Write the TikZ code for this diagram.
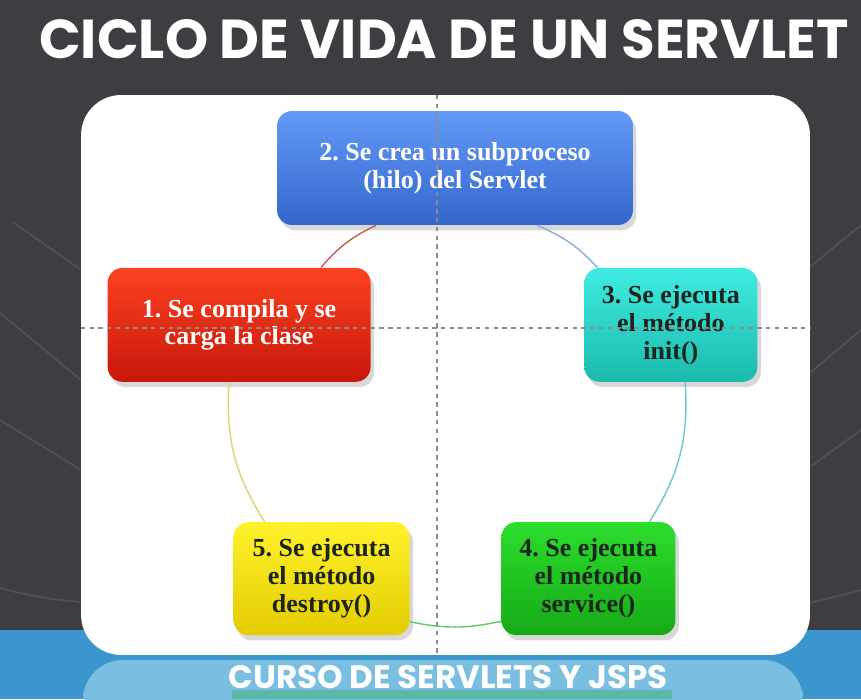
\documentclass[tikz,border=0pt]{standalone}
\usepackage{fontspec}
\setmainfont{Liberation Serif}
\newfontfamily\headfont{Poppins}
\usepackage{xcolor}
\usetikzlibrary{positioning, shadows, calc}

\definecolor{slate}{RGB}{62,62,66}
\definecolor{seablue}{RGB}{58,150,205}
\definecolor{sealight}{RGB}{122,190,226}
\definecolor{seateal}{RGB}{92,184,168}
\definecolor{guidegray}{RGB}{140,140,140}
\definecolor{inkdark}{RGB}{28,36,30}
\definecolor{redTop}{RGB}{252,66,32}
\definecolor{redBot}{RGB}{200,22,10}
\definecolor{blueTop}{RGB}{98,154,247}
\definecolor{blueBot}{RGB}{52,102,205}
\definecolor{cyanTop}{RGB}{64,236,226}
\definecolor{cyanBot}{RGB}{26,186,172}
\definecolor{greenTop}{RGB}{44,222,44}
\definecolor{greenBot}{RGB}{22,170,22}
\definecolor{yellowTop}{RGB}{255,242,44}
\definecolor{yellowBot}{RGB}{228,204,0}
\definecolor{redLine}{RGB}{200,92,80}
\definecolor{blueLine}{RGB}{140,170,220}
\definecolor{cyanLine}{RGB}{110,200,200}
\definecolor{greenLine}{RGB}{100,200,100}
\definecolor{yellowLine}{RGB}{222,212,110}

\begin{document}
\frenchspacing
\begin{tikzpicture}[x=0.02cm, y=0.02cm,
  stepbox/.style={rounded corners=0.3cm, minimum height=2.28cm, align=center,
    font=\bfseries\fontsize{14.8}{15.9}\selectfont,
    drop shadow={shadow xshift=2pt, shadow yshift=-3pt, opacity=0.3}},
  loop/.style={line width=0.8pt},
  guide/.style={guidegray, dashed, dash pattern=on 2.5pt off 2.5pt, line width=0.6pt},
  ray/.style={white, opacity=0.1, line width=1pt}]
\useasboundingbox (0,0) rectangle (861,699);

% backdrop
\fill[slate] (0,0) rectangle (861,699);
\fill[seablue] (0,0) rectangle (861,69);
\fill[sealight, rounded corners=0.8cm] (83,-30) rectangle (803,39);
\fill[seateal] (232,0) rectangle (672,9);
\draw[ray] (0,386) -- (81,319);
\draw[ray] (13,477) -- (81,429);
\draw[ray] (0,279) -- (81,229);
\draw[ray] (0,111) to[bend right=5] (81,97);
\draw[ray] (810,432) -- (861,474);
\draw[ray] (810,326) -- (861,369);
\draw[ray] (810,232) -- (861,269);
\draw[ray] (810,96) -- (861,109);

\node[fill=white, rounded corners=0.8cm, minimum width=14.58cm, minimum height=11.2cm] (panel) at (445.5,324) {};
\coordinate (hub) at (455,304);

\node[font=\headfont\bfseries\fontsize{31.2}{33}\selectfont, text=white] (title) at (444,660) {CICLO DE VIDA DE UN SERVLET};
\node[font=\headfont\bfseries\fontsize{18.5}{20}\selectfont, text=white] (course) at (448,22) {CURSO DE SERVLETS Y JSPS};

% the five steps on a circle
\node[stepbox, top color=redTop, bottom color=redBot, text=white, minimum width=5.26cm] (load) at ($(hub)+(162:227)$) {1. Se compila y se\\carga la clase};
\node[stepbox, top color=blueTop, bottom color=blueBot, text=white, minimum width=7.12cm] (thread) at ($(hub)+(90:227)$) {2. Se crea un subproceso\\(hilo) del Servlet};
\node[stepbox, top color=cyanTop, bottom color=cyanBot, text=inkdark, minimum width=3.46cm] (init) at ($(hub)+(18:227)$) {3. Se ejecuta\\el método\\init()};
\node[stepbox, top color=greenTop, bottom color=greenBot, text=inkdark, minimum width=3.48cm, minimum height=2.26cm] (service) at ($(hub)+(-54:227)$) {4. Se ejecuta\\el método\\service()};
\node[stepbox, top color=yellowTop, bottom color=yellowBot, text=inkdark, minimum width=3.52cm, minimum height=2.26cm] (destroy) at ($(hub)+(234:227)$) {5. Se ejecuta\\el método\\destroy()};

\draw[loop, redLine] (load.35) to[bend left=12] (thread.216);
\draw[loop, blueLine] (thread.-35) to[bend left=12] (init.142);
\draw[loop, cyanLine] (init.-76) to[bend left=18] (service.43);
\draw[loop, greenLine] (service.206) to[bend left=12] (destroy.-26);
\draw[loop, yellowLine] (destroy.135) to[bend left=18] (load.260);

% guides
\draw[guide] (panel.west |- 0,371) -- (panel.east |- 0,371);
\draw[guide] (437,604) -- (437,46);
\end{tikzpicture}
\end{document}
